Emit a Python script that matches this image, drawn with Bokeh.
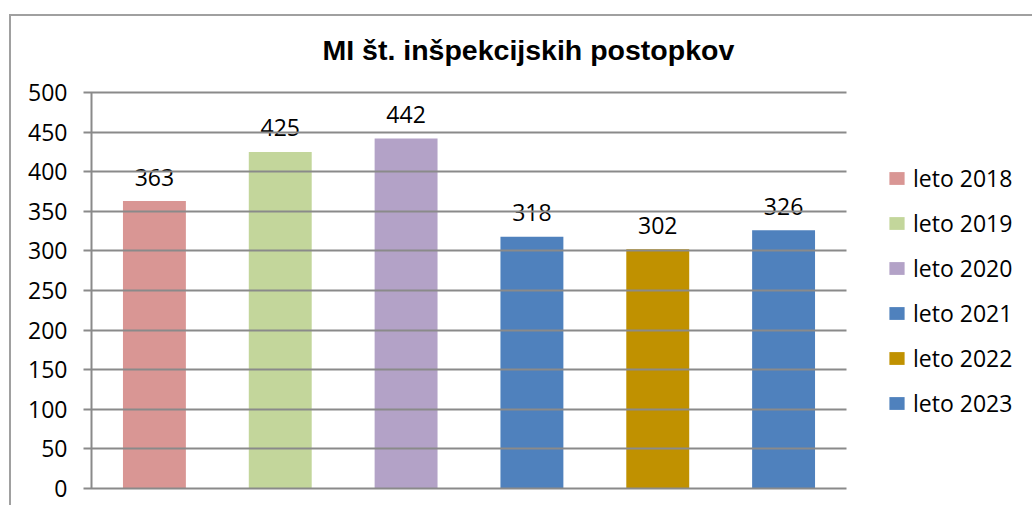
from bokeh.plotting import figure
from bokeh.models import ColumnDataSource, Range1d, FixedTicker, Legend, LegendItem
from bokeh.core.properties import value
from bokeh.embed import file_html
from bokeh.resources import INLINE

title_text = "MI št. inšpekcijskih postopkov"
categories = ["leto 2018", "leto 2019", "leto 2020", "leto 2021", "leto 2022", "leto 2023"]
values = [363, 425, 442, 318, 302, 326]
colors = ["#D99694", "#C3D69B", "#B3A2C7", "#4F81BD", "#C09100", "#4F81BD"]
y_ticks = [0, 50, 100, 150, 200, 250, 300, 350, 400, 450, 500]

# layout (pixels)
W, H = 1032, 505
LEFT, TOP, BOTTOM = 91, 92, 488
PLOT_W = 755            # width of the bar area (0 .. 6 categories)
GRID = "#8a8a8a"
FRAME = "#a0a0a0"

n = len(categories)
cat_px = PLOT_W / n
x_end = -0.5 + (W - LEFT) / cat_px

src = ColumnDataSource(dict(cat=categories, pos=list(range(n)), val=values, color=colors,
                            label=[str(v) for v in values]))

bg = (f"linear-gradient({FRAME},{FRAME}) 9px 14px / 2px 100% no-repeat, "
      f"linear-gradient({FRAME},{FRAME}) 9px 14px / 100% 2px no-repeat, white")

p = figure(width=W, height=H, x_range=Range1d(-0.5, x_end), y_range=Range1d(0, 500),
           output_backend="svg", toolbar_location=None,
           min_border_left=LEFT, min_border_right=0, min_border_top=TOP,
           min_border_bottom=H - BOTTOM,
           styles={"background": bg})
p.outline_line_color = None
p.background_fill_color = None
p.border_fill_color = None

r = p.vbar(x="pos", top="val", width=0.5, source=src, fill_color="color", line_color=None)
p.text(x="pos", y="val", text="label", source=src, text_align="center",
       text_baseline="alphabetic", y_offset=-24, text_font=value("Open Sans"),
       text_font_size="23px", text_color="black")

p.xaxis.visible = False
p.xgrid.grid_line_color = None
p.ygrid.grid_line_color = None

ax = p.yaxis[0]
ax.ticker = FixedTicker(ticks=y_ticks)
ax.major_label_text_font = "Open Sans"
ax.major_label_text_font_size = "23px"
ax.major_label_text_color = "black"
ax.axis_line_color = GRID
ax.axis_line_width = 2
ax.major_tick_line_color = GRID
ax.major_tick_line_width = 2
ax.major_tick_out = 8
ax.major_tick_in = PLOT_W
ax.minor_tick_line_color = None
ax.major_label_standoff = 16

p.title.text = title_text
p.title.text_font = "Liberation Sans"
p.title.text_font_style = "bold"
p.title.text_font_size = "28.5px"
p.title.text_color = "black"
p.title.align = "left"
p.title.offset = 231
p.title.standoff = 54

items = [LegendItem(label=c, renderers=[r], index=i) for i, c in enumerate(categories)]
legend = Legend(items=items, location=(796, 69), glyph_width=19, glyph_height=16,
                label_standoff=7, label_text_font="Open Sans", label_text_font_size="23px",
                label_text_color="black",
                label_width=107, label_height=32, spacing=13, padding=0, margin=0,
                border_line_color=None, background_fill_alpha=0)
p.add_layout(legend, "center")

open("out.html", "w").write(file_html(p, INLINE))
